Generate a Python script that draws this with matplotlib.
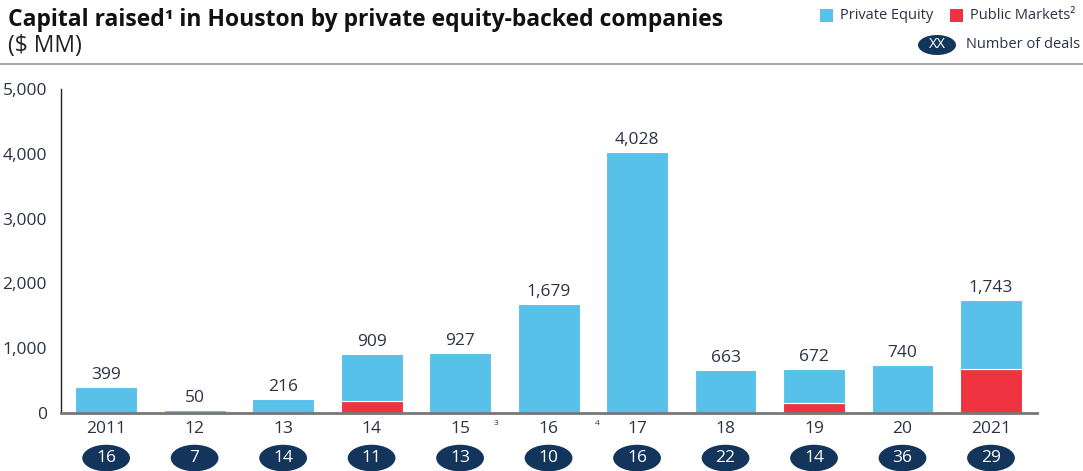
import matplotlib
matplotlib.use("Agg")
import matplotlib.pyplot as plt
from matplotlib.patches import Ellipse, Rectangle
import matplotlib.transforms as mtransforms

years = ["2011", "12", "13", "14", "15", "16", "17", "18", "19", "20", "2021"]
totals = [399, 50, 216, 909, 927, 1679, 4028, 663, 672, 740, 1743]
public_markets = [0, 0, 0, 185, 0, 0, 0, 0, 160, 0, 680]
deals = [16, 7, 14, 11, 13, 10, 16, 22, 14, 36, 29]
yticks = [0, 1000, 2000, 3000, 4000, 5000]

BLUE = "#58C1EA"
RED = "#EF3340"
NAVY = "#13355B"
TXT = "#2B3245"

plt.rcParams['font.family'] = ['Open Sans', 'DejaVu Sans']

fig = plt.figure(figsize=(10.83, 4.71), dpi=100)
ax = fig.add_axes([61/1083, 1-413/471, (1037-61)/1083, (413-89)/471])

x = list(range(len(years)))
private = [t - p for t, p in zip(totals, public_markets)]
ax.bar(x, public_markets, width=0.70, color=RED, edgecolor="white", linewidth=0.8, zorder=2)
ax.bar(x, private, bottom=public_markets, width=0.70, color=BLUE, edgecolor="white", linewidth=0.8, zorder=2)

for xi, t in zip(x, totals):
    ax.annotate(f"{t:,}", (xi, t), xytext=(0, 3), textcoords="offset points",
                ha="center", va="bottom", fontsize=12.5, color=TXT)

ax.set_xlim(-0.51, 10.52)
ax.set_ylim(0, 5000)
ax.set_yticks(yticks)
ax.set_yticklabels([f"{v:,}" for v in yticks], fontsize=12.5, color=TXT)
ax.set_xticks(x)
ax.set_xticklabels(years, fontsize=12.5, color=TXT)
ax.tick_params(axis='both', length=0)
ax.tick_params(axis='y', pad=10)
ax.tick_params(axis='x', pad=6)
for s in ["top", "right"]:
    ax.spines[s].set_visible(False)
ax.spines["left"].set_color("#222222")
ax.spines["left"].set_linewidth(1.0)
ax.spines["bottom"].set_color("#777777")
ax.spines["bottom"].set_linewidth(2.0)

# deal-count ellipses
trans = mtransforms.blended_transform_factory(ax.transData, ax.transAxes)
for xi, d in zip(x, deals):
    e = Ellipse((xi, -0.139), width=0.54, height=0.082, transform=trans,
                facecolor=NAVY, edgecolor="none", clip_on=False)
    ax.add_patch(e)
    ax.text(xi, -0.139, str(d), transform=trans, ha="center", va="center",
            fontsize=12.5, color="white")

# footnote marks
ax.text(4.41, -0.031, "3", transform=trans, ha="center", va="center", fontsize=6, color=TXT)
ax.text(5.55, -0.031, "4", transform=trans, ha="center", va="center", fontsize=6, color=TXT)

# title
fig.text(8/1083, 1-20/471, "Capital raised\u00b9 in Houston by private equity-backed companies",
         fontsize=16.5, fontweight="bold", color="#111111", ha="left", va="center")
fig.text(8/1083, 1-46/471, "($ MM)", fontsize=16.5, color="#222222", ha="left", va="center")

# header rule
fig.add_artist(plt.Line2D([0, 1], [1-64/471, 1-64/471], transform=fig.transFigure,
                          color="#999999", linewidth=1.2))

# legend
fig.add_artist(Rectangle((820/1083, 1-22/471), 13/1083, 13/471, transform=fig.transFigure,
                         facecolor=BLUE, edgecolor="none"))
fig.text(840/1083, 1-15.5/471, "Private Equity", fontsize=10.5, color=TXT, ha="left", va="center")
fig.add_artist(Rectangle((950/1083, 1-22/471), 13/1083, 13/471, transform=fig.transFigure,
                         facecolor=RED, edgecolor="none"))
fig.text(970/1083, 1-15.5/471, "Public Markets\u00b2", fontsize=10.5, color=TXT, ha="left", va="center")
fig.add_artist(Ellipse((937/1083, 1-45/471), 38/1083, 20/471, transform=fig.transFigure,
                       facecolor=NAVY, edgecolor="none"))
fig.text(937/1083, 1-45/471, "XX", fontsize=10.5, color="white", ha="center", va="center")
fig.text(966/1083, 1-45/471, "Number of deals", fontsize=10.5, color=TXT, ha="left", va="center")

fig.savefig("out.png", dpi=100)
